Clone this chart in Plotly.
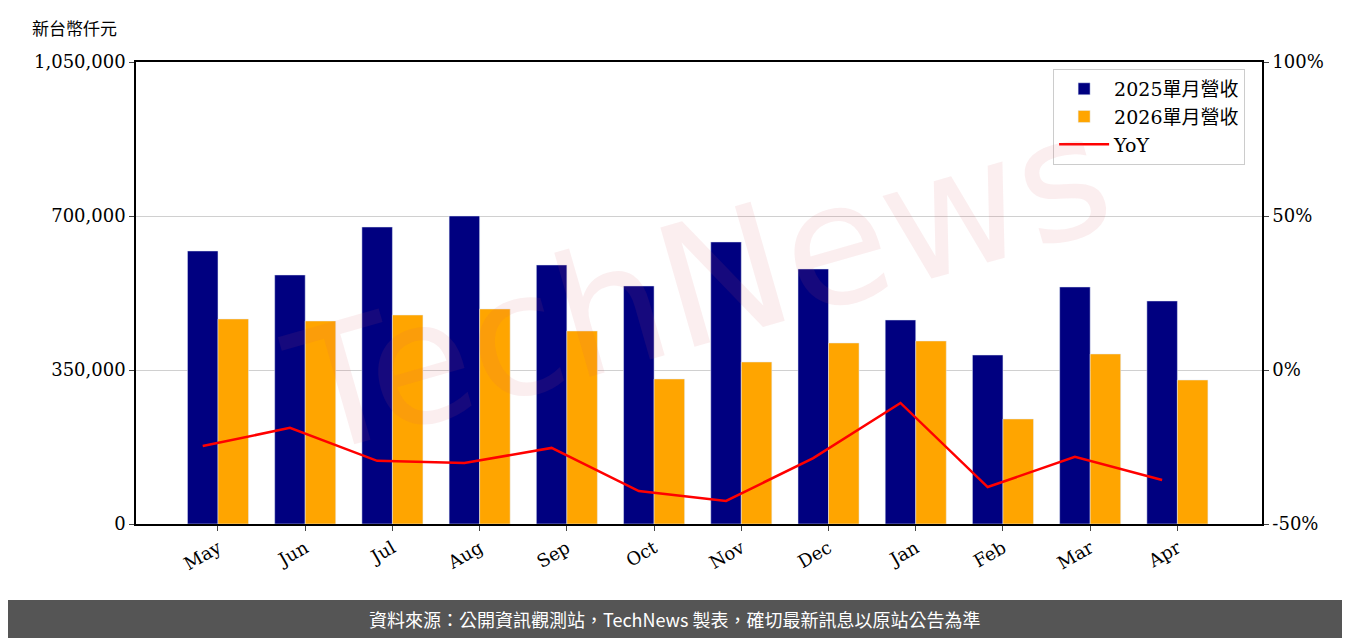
import plotly.graph_objects as go

months = ["May","Jun","Jul","Aug","Sep","Oct","Nov","Dec","Jan","Feb","Mar","Apr"]
rev_2025 = [620500,566000,675000,700000,588700,541000,641000,579600,463700,384100,538700,506900]
rev_2026 = [466000,461400,475000,488700,438700,329600,368200,411400,416000,238700,386400,327300]
yoy = [-24.7,-18.8,-29.5,-30.2,-25.3,-39.3,-42.5,-28.6,-10.7,-38.0,-28.2,-35.7]
yoy_ticks = [-50, 0, 50, 100]

idx = list(range(len(months)))
W = 0.35
fig = go.Figure()
fig.add_bar(x=idx, y=rev_2025, width=W, offset=-W, marker_color="#000080", name="2025單月營收")
fig.add_bar(x=idx, y=rev_2026, width=W, offset=0, marker_color="#FFA500", name="2026單月營收")
fig.add_scatter(x=[i - W/2 for i in idx], y=yoy, yaxis="y2", mode="lines",
                line=dict(color="red", width=2.5), name="YoY")

serif = "DejaVu Serif"
cjk = "Noto Sans CJK TC"
PW, PH = 1126, 462
fig.update_layout(
    width=1342, height=630, margin=dict(l=128, r=88, t=54, b=114),
    plot_bgcolor="white", paper_bgcolor="white", barmode="overlay",
    font=dict(family=serif, size=18, color="black"),
    xaxis=dict(range=[-0.94, 11.97], tickvals=idx, ticktext=months, tickangle=-30,
               showline=True, linecolor="black", linewidth=1.5, mirror=True,
               ticks="outside", ticklen=5, showgrid=False, zeroline=False),
    yaxis=dict(range=[0, 1050000], tickvals=[0,350000,700000,1050000], tickformat=",d",
               showline=True, linecolor="black", linewidth=1.5, ticks="outside", ticklen=5,
               showgrid=True, gridcolor="#d0d0d0", zeroline=False),
    yaxis2=dict(range=[-50, 100], tickvals=yoy_ticks, ticktext=[f"{v}%" for v in yoy_ticks],
                overlaying="y", side="right", showgrid=False, zeroline=False, ticks="outside",
                ticklen=5, showline=True, linecolor="black", linewidth=1.5),
    legend=dict(x=0.985, y=0.985, xanchor="right", yanchor="top", bgcolor="rgba(255,255,255,0.8)",
                bordercolor="#cccccc", borderwidth=1, font=dict(family="DejaVu Serif, Noto Sans CJK TC", size=19),
                traceorder="normal", itemwidth=50),
    showlegend=True,
)
fig.add_annotation(text="TechNews", xref="paper", yref="paper", x=0.5, y=0.52,
                   showarrow=False, textangle=-16,
                   font=dict(family="DejaVu Sans", size=170, color="rgba(220,90,100,0.10)"))
fig.add_annotation(text="新台幣仟元", xref="paper", yref="paper", x=-106/PW, y=(54-19)/PH + 1,
                   xanchor="left", yanchor="middle", showarrow=False,
                   font=dict(family=cjk, size=17, color="black"))
fig.add_shape(type="rect", xref="paper", yref="paper", x0=-140/PW, x1=1230/PW,
              y0=-130/PH, y1=-76/PH, fillcolor="#555555", line_width=0, layer="above")
fig.add_annotation(text="資料來源：公開資訊觀測站，TechNews 製表，確切最新訊息以原站公告為準",
                   xref="paper", yref="paper", x=(667-128)/PW, y=-95/PH, yanchor="middle",
                   showarrow=False, font=dict(family=cjk, size=18, color="white"))
fig.write_html("out.html")
